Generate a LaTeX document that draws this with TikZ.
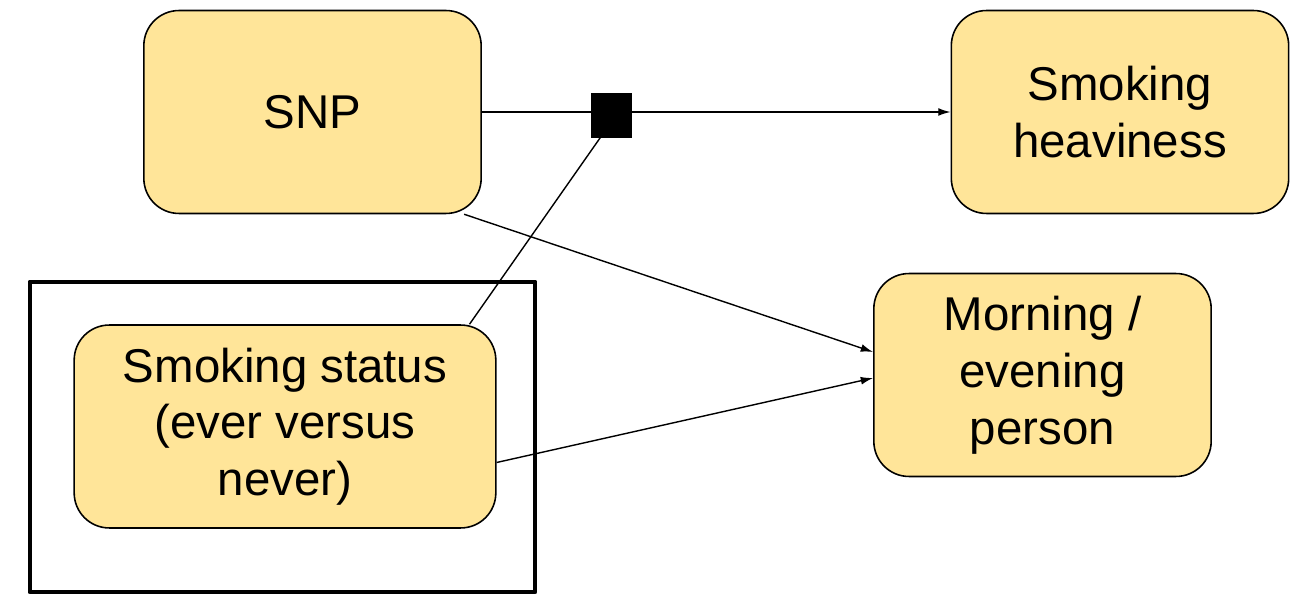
\documentclass[tikz,border=0pt]{standalone}
\usepackage{fontspec}
\setmainfont{Liberation Sans}
\usepackage{tikz}
\usetikzlibrary{arrows.meta}
\usetikzlibrary{calc}
\usetikzlibrary{positioning}
\definecolor{boxyellow}{HTML}{FFE599}

\begin{document}
\begin{tikzpicture}[
  x=0.02cm, y=-0.02cm,
	block/.style={
	draw,
	fill=boxyellow,
	rectangle,
	rounded corners=20pt,
	line width=0.9pt,
	align=center,
	inner sep=0pt,
	minimum width=192pt,
	minimum height=115.5pt,
	font=\fontsize{27}{32.3}\selectfont},
	factor/.style={
	draw,
	fill=black,
	rectangle,
	inner sep=0pt,
	minimum width=23pt,
	minimum height=25pt},
	frame/.style={
	draw,
	line width=2.8pt,
	line join=round},
	arrow1/.style={
	line width=0.8pt,
	-{Latex[length=7pt, width=4.5pt]}
	},
	link/.style={
	line width=0.8pt
	}]

	% Canvas
	\useasboundingbox (0,0) rectangle (1291,597);

	% Frame round the conditioning variable
	\draw[frame] (30,282) rectangle (535,592);

	% Nodes
	\node [block] at (312.5,112)  (snp)     {SNP};
	\node [block] at (1120,112)   (heavy)   {Smoking\\heaviness};
	\node [block] at (1042.5,375) (morning) {Morning /\\evening\\person};
	\node [block, minimum width=240pt] at (285,426.5) (status) {Smoking status\\(ever versus\\never)};

	% Interaction
	\node [factor] at (611.5,115) (inter) {};

	% Connectors
	\draw[arrow1] (snp.east) -- (heavy.west);
	\draw[link] (status.29.6) -- ($(inter.south)+(-11,0)$);
	\draw[arrow1] (snp.-34) -- ($(morning.west)+(0,-23)$);
	\draw[arrow1] ($(status.east)+(0,36)$) -- ($(morning.west)+(0,3)$);

	% Square on top of the line
	\node [factor] at (inter) {};

\end{tikzpicture}
\end{document}
